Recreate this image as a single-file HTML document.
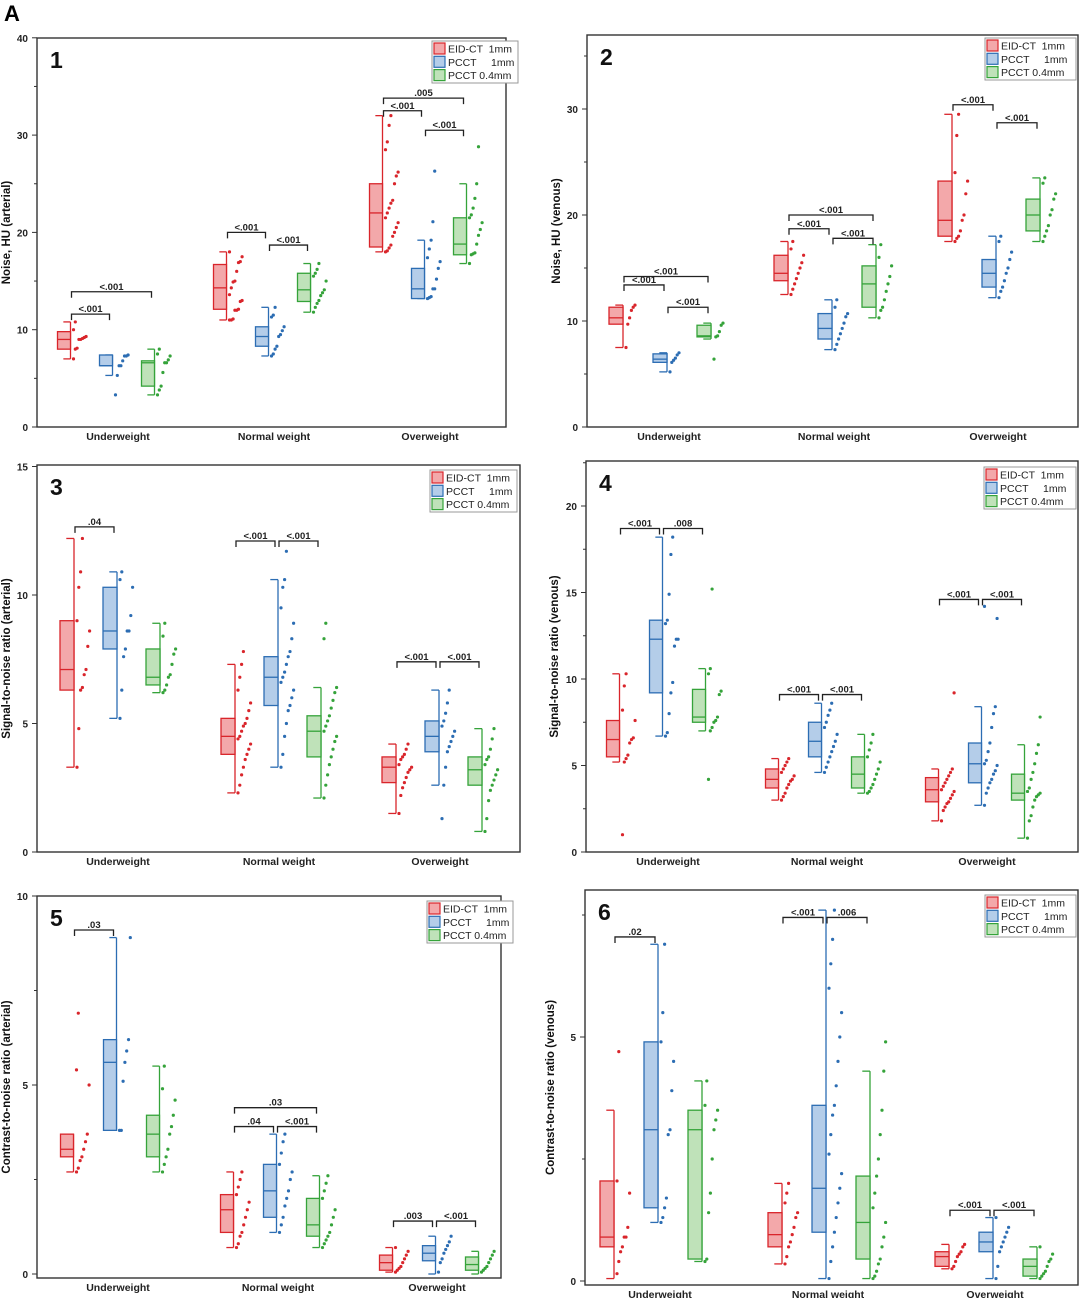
<!DOCTYPE html>
<html><head><meta charset="utf-8"><style>
html,body{margin:0;padding:0;background:#fff;}
svg{display:block;font-family:"Liberation Sans",Arial,sans-serif;}
</style></head><body>
<svg id="fig" width="1080" height="1298" viewBox="0 0 1080 1298">
<text x="4" y="21" font-size="22" font-weight="bold">A</text>
</svg>
<script>
const categories = ["Underweight","Normal weight","Overweight"];
const seriesNames = ["EID-CT  1mm","PCCT     1mm","PCCT 0.4mm"];
// box stats: [min,q1,median,q3,max] per category per series
const p1Stats=[[[7,8,9,9.8,10.8],[5.3,6.3,6.3,7.4,7.4],[3.3,4.2,6.6,6.8,8]],[[11,12.1,14.3,16.7,18],[7.3,8.3,9.3,10.3,12.3],[11.8,12.9,14.1,15.8,16.8]],[[18,18.5,22,25,32],[13.2,13.2,14.2,16.3,19.2],[16.8,17.7,18.8,21.5,25]]];
const p1Pts=[[[7,8,8.1,9,9,9.1,9.2,9.3,10,10.8],[3.3,5.3,6.3,6.3,6.8,7.3,7.3,7.4],[3.3,3.8,4.2,5.6,6.6,6.6,6.9,7.3,7.5,8]],[[11,11,11.1,12,12,12.1,12.9,13,13.6,14.3,14.9,15,16,16.9,17,17.5,18],[7.3,7.5,8,8.3,9.3,9.5,9.9,10.3,11.3,11.5,12.3],[11.8,12.3,12.7,13,13.5,13.8,14.1,15,15.5,15.8,16.2,16.8]],[[18,18.1,18.4,18.7,19.6,20,20.5,21,21.5,22,22.5,23,23.3,25,25.8,26.2,28.5,29.3,31,32],[13.2,13.3,13.4,14.2,14.2,15.2,16.3,17,17.4,18.3,19.2,21.1,26.3],[16.8,17.7,17.8,17.9,18.8,19.7,20.3,21,21.5,21.8,22.5,23.5,25,28.8]]];
const p1Br=[[0,0,1,11.6,"<.001"],[0,0,2,13.9,"<.001"],[1,0,1,20,"<.001"],[1,1,2,18.7,"<.001"],[2,0,1,32.5,"<.001"],[2,1,2,30.5,"<.001"],[2,0,2,33.8,".005"]];
const p1Ticks=[0,10,20,30,40];

const p2Stats=[[[7.5,9.7,10.3,11.3,11.5],[5.2,6.1,6.4,6.9,7],[8.3,8.5,8.6,9.6,9.8]],[[12.5,13.8,14.5,16.2,17.5],[7.3,8.3,9.3,10.7,12],[10.3,11.3,13.5,15.2,17.2]],[[17.5,18,19.5,23.2,29.5],[12.2,13.2,14.5,15.8,18],[17.5,18.5,20,21.5,23.5]]];
const p2Pts=[[[7.5,9.7,10.3,11,11.3,11.5],[5.2,6.1,6.3,6.5,6.8,7],[6.4,8.5,8.6,9,9.6,9.8]],[[12.5,13,13.5,14,14.5,15,15.5,16.2,16.8,17.5],[7.3,7.8,8.3,8.8,9.3,9.8,10.4,10.7,11.3,12],[10.3,11,11.3,12,12.8,13.5,14.2,15.2,16,17.2]],[[17.5,17.8,18,18.5,19.5,20,22,23.2,24,27.5,29.5],[12.2,12.8,13.2,13.8,14.5,15,15.8,16.5,17.5,18],[17.5,18,18.5,19,20,20.5,21.5,22,23,23.5]]];
const p2Br=[[0,0,1,13.4,"<.001"],[0,0,2,14.2,"<.001"],[0,1,2,11.3,"<.001"],[1,0,1,18.7,"<.001"],[1,0,2,20,"<.001"],[1,1,2,17.8,"<.001"],[2,0,1,30.4,"<.001"],[2,1,2,28.7,"<.001"]];
const p2Ticks=[0,10,20,30];

const p3Stats=[[[3.3,6.3,7.1,9,12.2],[5.2,7.9,8.6,10.3,10.9],[6.2,6.5,6.8,7.9,8.9]],[[2.3,3.8,4.5,5.2,7.3],[3.3,5.7,6.8,7.6,10.6],[2.1,3.7,4.7,5.3,6.4]],[[1.5,2.7,3.3,3.7,4.2],[2.6,3.9,4.5,5.1,6.3],[0.8,2.6,3.2,3.7,4.8]]];
const p3Pts=[[[3.3,4.8,6.3,6.4,6.9,7.1,8,8.6,9,10.3,10.9,12.2],[5.2,6.3,7.6,7.9,8.6,8.6,9.2,10.3,10.6,10.9],[6.2,6.3,6.5,6.8,6.9,7.3,7.7,7.9,8.4,8.9]],[[2.3,2.6,3,3.3,3.6,3.8,4,4.2,4.4,4.5,4.7,4.9,5,5.2,5.5,5.8,6.3,6.8,7.3,7.8],[3.3,3.8,4.5,5,5.5,5.7,6,6.3,6.6,6.8,7,7.3,7.6,7.8,8.3,8.9,9.5,10.3,10.6,11.7],[2.1,2.6,3,3.4,3.7,4,4.3,4.5,4.7,4.9,5.1,5.3,5.6,5.9,6.2,6.4,8.3,8.9]],[[1.5,2.2,2.5,2.7,2.9,3.1,3.2,3.3,3.4,3.6,3.7,3.8,4,4.2],[1.3,2.6,3.3,3.9,4.1,4.3,4.5,4.7,4.9,5.1,5.4,5.8,6.3],[0.8,1.3,2,2.4,2.6,2.8,3,3.2,3.4,3.6,3.7,4,4.4,4.8]]];
const p3Br=[[0,0,1,12.65,".04"],[1,0,1,12.1,"<.001"],[1,1,2,12.1,"<.001"],[2,0,1,7.4,"<.001"],[2,1,2,7.4,"<.001"]];
const p3Ticks=[0,5,10,15];

const p4Stats=[[[5.2,5.5,6.5,7.6,10.3],[6.7,9.2,12.3,13.4,18.2],[7,7.5,7.8,9.4,10.6]],[[3,3.7,4.2,4.8,5.4],[4.6,5.5,6.4,7.5,8.6],[3.4,3.7,4.5,5.5,6.8]],[[1.8,2.9,3.6,4.3,4.8],[2.7,4,5.1,6.3,8.4],[0.8,3,3.4,4.5,6.2]]];
const p4Pts=[[[1,5.2,5.4,5.6,6.3,6.5,6.6,7.6,8.2,9.6,10.3],[6.7,6.9,8,9.2,9.8,11.9,12.3,12.3,13.2,13.4,14.9,17.2,18.2],[4.2,7,7.2,7.5,7.6,7.8,9.1,9.3,10.3,10.6,15.2]],[[3,3.2,3.4,3.7,3.9,4.1,4.2,4.4,4.6,4.8,5,5.2,5.4],[4.6,4.9,5.2,5.5,5.8,6.1,6.4,6.8,7.2,7.5,7.9,8.2,8.6],[3.4,3.5,3.7,3.9,4.2,4.5,4.8,5.2,5.5,5.9,6.3,6.8]],[[1.8,2.4,2.6,2.8,2.9,3.1,3.3,3.5,3.6,3.8,4,4.2,4.4,4.6,4.8,9.2],[2.7,3.4,3.7,4,4.2,4.5,4.7,5,5.1,5.3,5.8,6.3,7.2,8,8.4,13.5,14.2],[0.8,1.8,2.1,2.6,3,3.2,3.3,3.4,3.5,3.7,4.2,4.6,5.1,5.7,6.2,7.8]]];
const p4Br=[[0,0,1,18.7,"<.001"],[0,1,2,18.7,".008"],[1,0,1,9.1,"<.001"],[1,1,2,9.1,"<.001"],[2,0,1,14.6,"<.001"],[2,1,2,14.6,"<.001"]];
const p4Ticks=[0,5,10,15,20];

const p5Stats=[[[2.7,3.1,3.3,3.7,3.7],[3.8,3.8,5.6,6.2,8.9],[2.7,3.1,3.7,4.2,5.5]],[[0.7,1.1,1.7,2.1,2.7],[1.1,1.5,2.2,2.9,3.7],[0.7,1,1.3,2,2.6]],[[0.05,0.1,0.3,0.5,0.7],[0,0.35,0.55,0.75,1],[0,0.1,0.25,0.45,0.6]]];
const p5Pts=[[[2.7,2.8,3,3.1,3.3,3.5,3.7,5,5.4,6.9],[3.8,3.8,5.1,5.6,5.9,6.2,8.9],[2.7,2.9,3.1,3.3,3.7,3.9,4.2,4.6,4.9,5.5]],[[0.7,0.8,1,1.1,1.3,1.5,1.7,1.9,2.1,2.3,2.5,2.7],[1.1,1.3,1.5,1.8,2,2.2,2.5,2.7,2.9,3.2,3.5,3.7],[0.7,0.8,0.9,1,1.1,1.3,1.5,1.7,2,2.2,2.4,2.6]],[[0.05,0.1,0.15,0.2,0.3,0.4,0.5,0.6,0.7],[0.05,0.3,0.4,0.55,0.65,0.75,0.85,1],[0.05,0.1,0.15,0.2,0.3,0.4,0.5,0.6]]];
const p5Br=[[0,0,1,9.1,".03"],[1,0,1,3.9,".04"],[1,1,2,3.9,"<.001"],[1,0,2,4.4,".03"],[2,0,1,1.4,".003"],[2,1,2,1.4,"<.001"]];
const p5Ticks=[0,5,10];

const p6Stats=[[[0.05,0.7,0.9,2.05,3.5],[1.2,1.5,3.1,4.9,6.9],[0.4,0.45,3.1,3.5,4.1]],[[0.35,0.7,0.95,1.4,2],[0.05,1,1.9,3.6,7.6],[0.05,0.45,1.2,2.15,4.3]],[[0.25,0.3,0.5,0.6,0.75],[0.05,0.6,0.8,1,1.3],[0.05,0.1,0.3,0.45,0.7]]];
const p6Pts=[[[0.15,0.4,0.6,0.7,0.9,0.9,1.1,1.8,2.05,4.7],[1.2,1.3,1.5,1.7,3,3.1,3.9,4.5,4.9,5.5,6.9],[0.4,0.45,1.4,1.8,2.5,3.1,3.3,3.5,3.6,4.1]],[[0.35,0.5,0.7,0.8,0.95,1.1,1.3,1.4,1.6,1.8,2],[0.05,0.4,0.7,1,1.3,1.6,1.9,2.2,2.6,3,3.4,3.6,4,4.5,5,5.5,6,6.5,7,7.6],[0.05,0.1,0.2,0.35,0.45,0.7,0.9,1.2,1.5,1.8,2.15,2.5,3,3.5,4.3,4.9]],[[0.25,0.3,0.4,0.5,0.55,0.6,0.7,0.75],[0.05,0.3,0.6,0.7,0.8,0.9,1,1.1,1.3],[0.05,0.1,0.15,0.2,0.3,0.4,0.45,0.55,0.7]]];
const p6Br=[[0,0,1,7.05,".02"],[1,0,1,7.45,"<.001"],[1,1,2,7.45,".006"],[2,0,1,1.45,"<.001"],[2,1,2,1.45,"<.001"]];
const p6Ticks=[0,5];

const NS="http://www.w3.org/2000/svg";
const svg=document.getElementById('fig');
const stroke=["#d9252b","#2c6db3","#35a33a"];
const fill=["#f3a8aa","#b4cde9","#bfe2b9"];
function mk(tag,attrs,parent){const e=document.createElementNS(NS,tag);for(const k in attrs)e.setAttribute(k,attrs[k]);(parent||svg).appendChild(e);return e;}

function drawPanel(g){
  const grp=mk('g',{});
  
  
  const yv=v=>g.base-v*g.scale;
  // frame
  const fr=mk('rect',{x:g.x0,y:g.y0,width:g.x1-g.x0,height:g.base-g.y0+ (g.bottom-g.base),fill:'none',stroke:'#333','stroke-width':1.4},grp);
  
  
  // ticks
  for(let v=0; v<=g.maxMinor; v+=g.minor){
    const y=yv(v);
    if(y<g.y0-1) break;
    const major=g.ticks.indexOf(v)>=0;
    mk('line',{x1:g.x0-(major?5:3),x2:g.x0,y1:y,y2:y,stroke:'#333','stroke-width':1},grp);
  }
  g.ticks.forEach(v=>{
    const t=mk('text',{x:g.x0-9,y:yv(v)+4,'font-size':10,'font-weight':'bold','text-anchor':'end',fill:'#222'},grp);
    t.textContent=v;
    
    
  });
  // y title
  const cy=(g.y0+g.bottom)/2;
  const yt=mk('text',{x:g.titleX,y:cy,'font-size':11.5,'font-weight':'bold','text-anchor':'middle',transform:`rotate(-90 ${g.titleX} ${cy})`,fill:'#111'},grp);
  yt.textContent=g.title;
  
  
  // panel number
  const pn=mk('text',{x:g.x0+13,y:g.y0+30,'font-size':23,'font-weight':'bold',fill:'#111'},grp);
  pn.textContent=g.num;
  
  
  // categories
  categories.forEach((c,ci)=>{
    const t=mk('text',{x:g.cats[ci]+g.labelDx,y:g.bottom+13,'font-size':10.5,'font-weight':'bold','text-anchor':'middle',fill:'#222'},grp);
    t.textContent=c;
    
    
  });
  const bw=g.bw;
  const right=(ci,si)=>g.cats[ci]+(si-1)*g.d+bw/2;
  g.stats.forEach((cat,ci)=>{
    cat.forEach((s,si)=>{
      const xr=right(ci,si), xl=xr-bw;
      const bg=mk('g',{},grp);
      
      
      mk('line',{x1:xr,x2:xr,y1:yv(s[0]),y2:yv(s[4]),stroke:stroke[si],'stroke-width':1.3},bg);
      mk('line',{x1:xl+bw*0.45,x2:xr,y1:yv(s[0]),y2:yv(s[0]),stroke:stroke[si],'stroke-width':1.3},bg);
      mk('line',{x1:xl+bw*0.45,x2:xr,y1:yv(s[4]),y2:yv(s[4]),stroke:stroke[si],'stroke-width':1.3},bg);
      mk('rect',{x:xl,y:yv(s[3]),width:bw,height:Math.max(0.5,yv(s[1])-yv(s[3])),fill:fill[si],stroke:stroke[si],'stroke-width':1.3},bg);
      mk('line',{x1:xl,x2:xr,y1:yv(s[2]),y2:yv(s[2]),stroke:stroke[si],'stroke-width':1.3},bg);
      g.pts[ci][si].forEach((v,i)=>{
        const c=mk('circle',{cx:xr+3+(i%8)*1.8,cy:yv(v),r:1.6,fill:stroke[si]},bg);
        
        
      });
    });
  });
  g.br.forEach(b=>{
    const xa=right(b[0],b[1])-1, xb=right(b[0],b[2])-1, y=yv(b[3]);
    const bgp=mk('g',{},grp);
    
    
    mk('path',{d:`M${xa+2},${y+6}V${y}H${xb-2}V${y+6}`,fill:'none',stroke:'#222','stroke-width':1.3},bgp);
    const t=mk('text',{x:(xa+xb)/2,y:y-2,'font-size':9.5,'font-weight':'bold','text-anchor':'middle',fill:'#222'},bgp);
    t.textContent=b[4];
  });
  // legend
  const lg=mk('g',{},grp);
  
  
  mk('rect',{x:g.lx,y:g.ly,width:g.lw,height:42,fill:'#fff',stroke:'#999','stroke-width':1},lg);
  seriesNames.forEach((n,i)=>{
    const e=mk('g',{},lg);
    
    
    mk('rect',{x:g.lx+2,y:g.ly+2+i*13.3,width:11,height:11,fill:fill[i],stroke:stroke[i],'stroke-width':1.2},e);
    const t=mk('text',{x:g.lx+16,y:g.ly+11.5+i*13.3,'font-size':10.5,fill:'#222','xml:space':'preserve'},e);
    t.setAttribute('style','white-space:pre');
    t.textContent=n;
  });
}
drawPanel({num:1,x0:37,x1:506,y0:38,base:427,bottom:427,scale:9.73,ticks:p1Ticks,minor:5,maxMinor:40,title:"Noise, HU (arterial)",titleX:10,cats:[106,262,418],d:42,bw:13,labelDx:12,stats:p1Stats,pts:p1Pts,br:p1Br,lx:432,ly:41,lw:86});
drawPanel({num:2,x0:587,x1:1078,y0:35,base:427,bottom:427,scale:10.6,ticks:p2Ticks,minor:5,maxMinor:35,title:"Noise, HU (venous)",titleX:560,cats:[660,825,989],d:44,bw:14,labelDx:9,stats:p2Stats,pts:p2Pts,br:p2Br,lx:985,ly:38,lw:91});
drawPanel({num:3,x0:37,x1:520,y0:465,base:852,bottom:852,scale:25.7,ticks:p3Ticks,minor:5,maxMinor:15,title:"Signal-to-noise ratio (arterial)",titleX:10,cats:[110,271,432],d:43,bw:14,labelDx:8,stats:p3Stats,pts:p3Pts,br:p3Br,lx:430,ly:470,lw:87});
drawPanel({num:4,x0:586,x1:1078,y0:461,base:852,bottom:852,scale:17.3,ticks:p4Ticks,minor:2.5,maxMinor:22.5,title:"Signal-to-noise ratio (venous)",titleX:558,cats:[656,815,975],d:43,bw:13,labelDx:12,stats:p4Stats,pts:p4Pts,br:p4Br,lx:984,ly:467,lw:92});
drawPanel({num:5,x0:37,x1:501,y0:896,base:1274,bottom:1278,scale:37.8,ticks:p5Ticks,minor:2.5,maxMinor:10,title:"Contrast-to-noise ratio (arterial)",titleX:10,cats:[110,270,429],d:43,bw:13,labelDx:8,stats:p5Stats,pts:p5Pts,br:p5Br,lx:427,ly:901,lw:86});
drawPanel({num:6,x0:585,x1:1078,y0:890,base:1281,bottom:1285,scale:48.8,ticks:p6Ticks,minor:2.5,maxMinor:7.5,title:"Contrast-to-noise ratio (venous)",titleX:554,cats:[651,819,986],d:44,bw:14,labelDx:9,stats:p6Stats,pts:p6Pts,br:p6Br,lx:985,ly:895,lw:91});
</script>
</body></html>
